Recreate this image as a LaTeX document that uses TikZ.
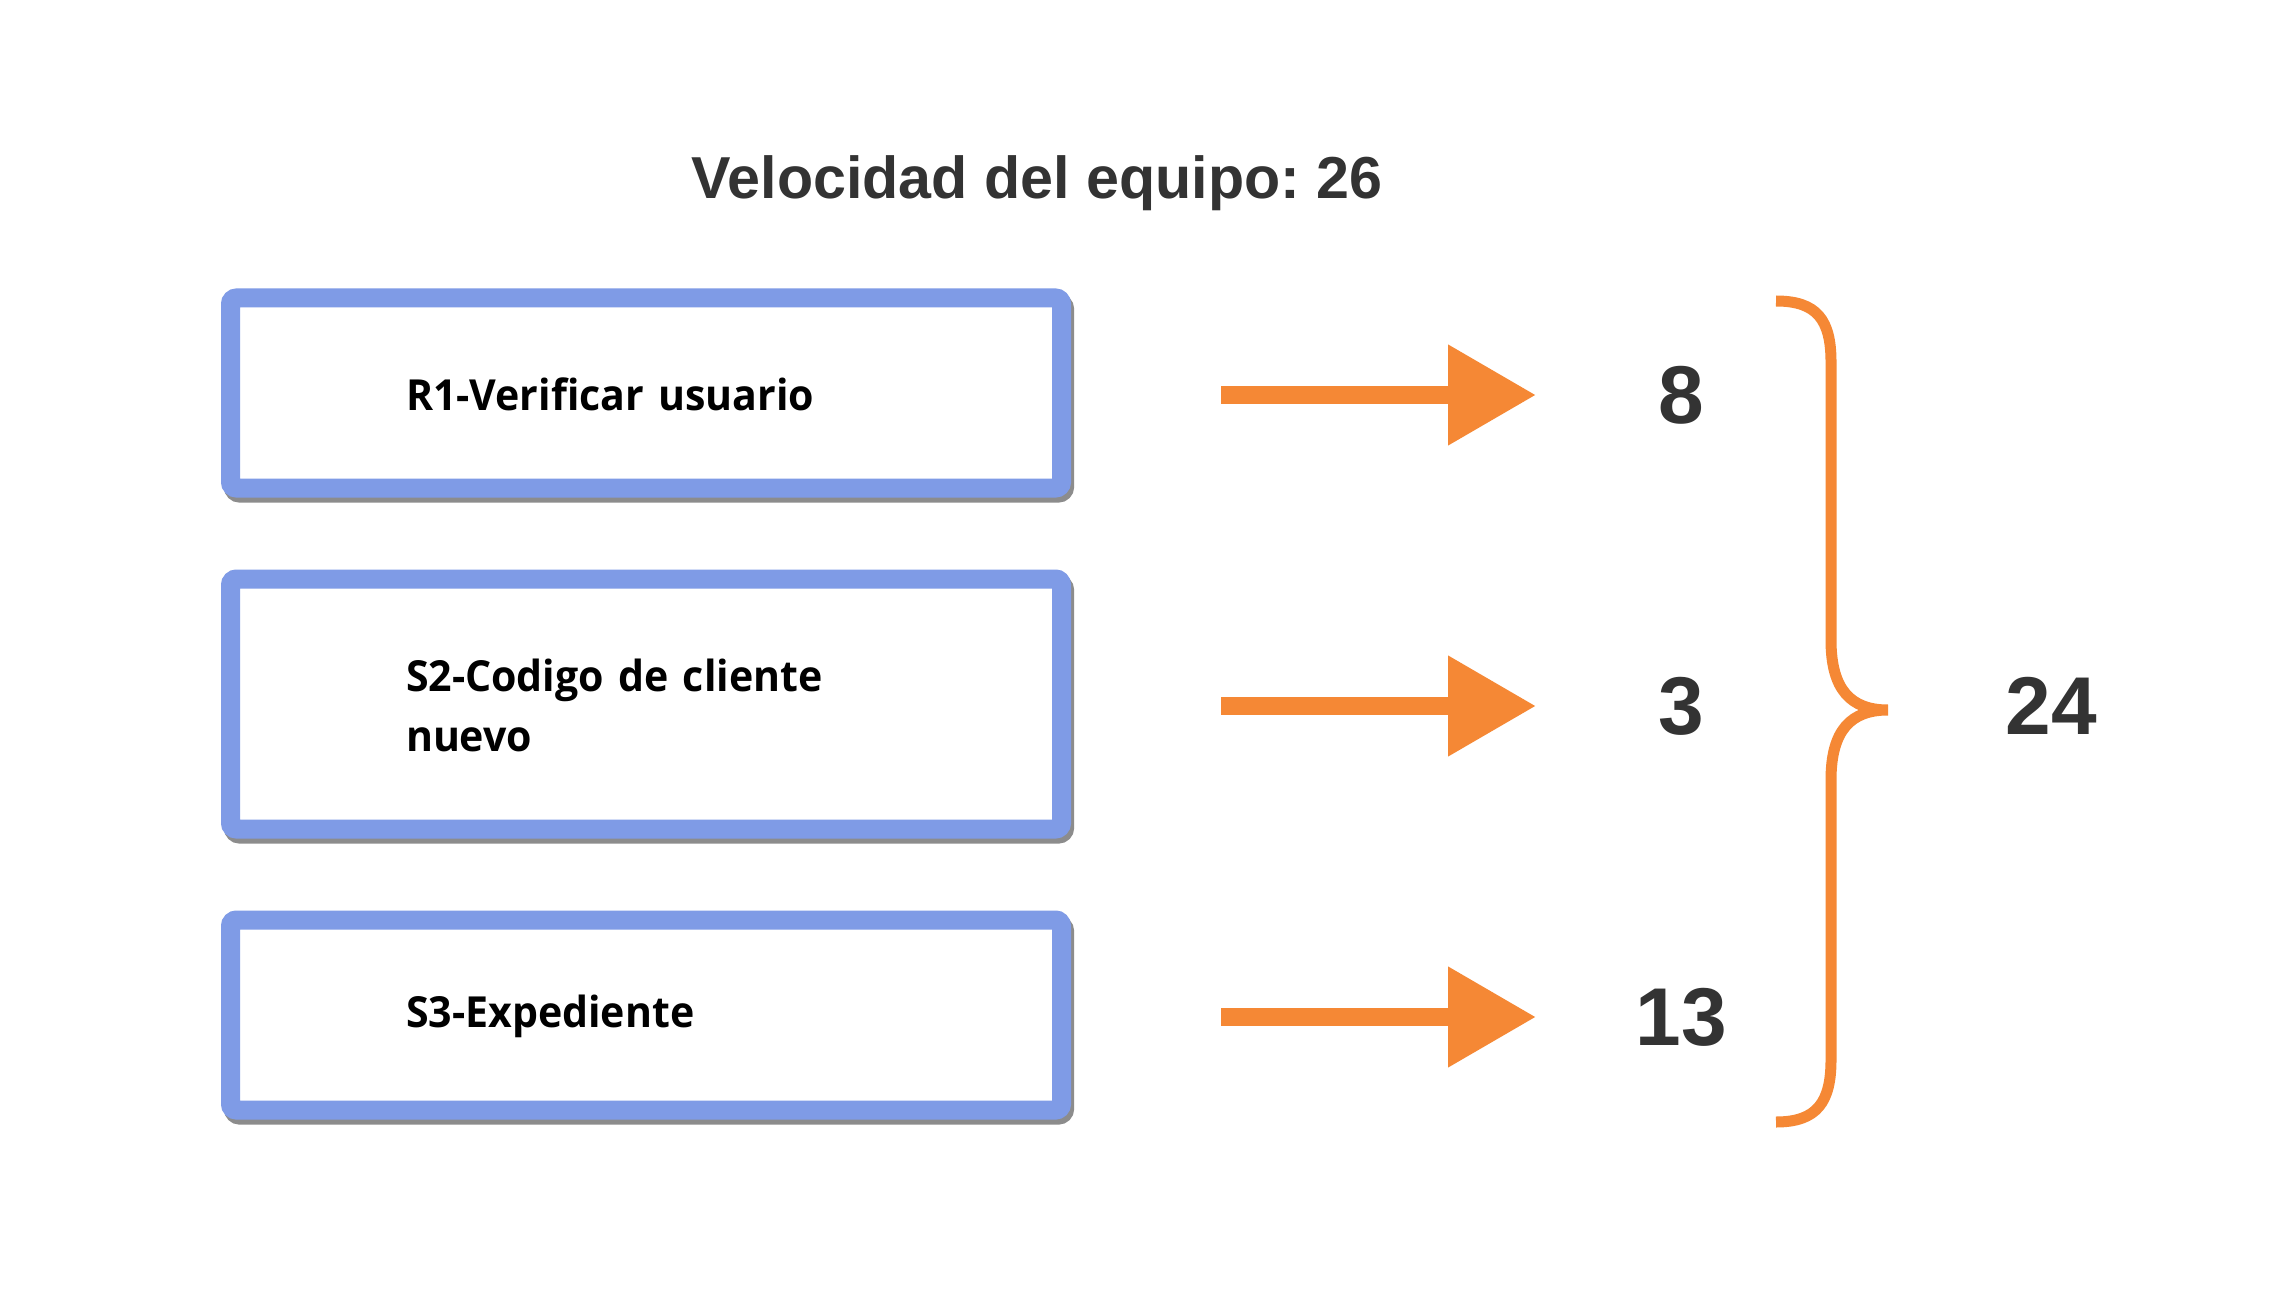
\documentclass[tikz,border=0pt]{standalone}
\usepackage{fontspec}
\setmainfont{Liberation Sans}
\newfontfamily\boxfont[FakeStretch=0.96]{Open Sans}
\usetikzlibrary{arrows.meta}
\definecolor{boxblue}{HTML}{7F9BE6}
\definecolor{velorange}{HTML}{F58835}
\definecolor{numgray}{HTML}{333333}
\frenchspacing

\begin{document}
\begin{tikzpicture}[x=0.5pt, y=-0.5pt, node distance=155.5pt,
    box/.style = {draw=boxblue, line width=9.5pt, rounded corners=3pt, fill=white,
      minimum height=95pt, text width=240pt, inner xsep=87.75pt, align=left, text height=18pt,
      font=\boxfont\bfseries\fontsize{21.4}{30}\selectfont,
      preaction={draw=black!45, line width=9.5pt, transform canvas={shift={(1.5pt,-2.5pt)}}}},
    num/.style = {text=numgray, font=\bfseries\fontsize{41}{41}\selectfont},
    pts/.style = {-{Triangle[length=44pt, width=48pt]}, draw=velorange, line width=9pt, shorten >=72.5pt},
    brace/.style = {draw=velorange, line width=5.5pt}]
    \fill[white] (0,0) rectangle (2279,1299);
    \useasboundingbox (0,0) rectangle (2279,1299);
    % title
    \node[text=numgray, font=\bfseries\fontsize{29.6}{30}\selectfont, anchor=base] (T) at (1037,199) {Velocidad del equipo: 26};
    % stories
    \node[box] (R1) at (646,393) {R1-Verificar usuario};
    \node[box, minimum height=125pt] (S2) [below of=R1] {S2-Codigo de cliente\\nuevo};
    \node[box] (S3) [below of=S2] {S3-Expediente};
    % points
    \node[num] (P1) at (1681,395) {8};
    \node[num] (P2) [below of=P1] {3};
    \node[num] (P3) [below of=P2] {13};
    \node[num] (Tot) [right of=P2, node distance=185pt] {24};
    \coordinate[left of=P1, node distance=230pt] (A1);
    \coordinate[left of=P2, node distance=230pt] (A2);
    \coordinate[left of=P3, node distance=230pt] (A3);
    \draw[pts] (A1) -- (P1.center);
    \draw[pts] (A2) -- (P2.center);
    \draw[pts] (A3) -- (P3.center);
    % brace
    \draw[brace] (1776,301) .. controls (1817,301) and (1831,320) .. (1831,362) -- (1831,640)
        .. controls (1831,690) and (1851,710) .. (1888,710)
        .. controls (1851,710) and (1831,730) .. (1831,780) -- (1831,1060)
        .. controls (1831,1102) and (1817,1122) .. (1776,1122);
\end{tikzpicture}
\end{document}
